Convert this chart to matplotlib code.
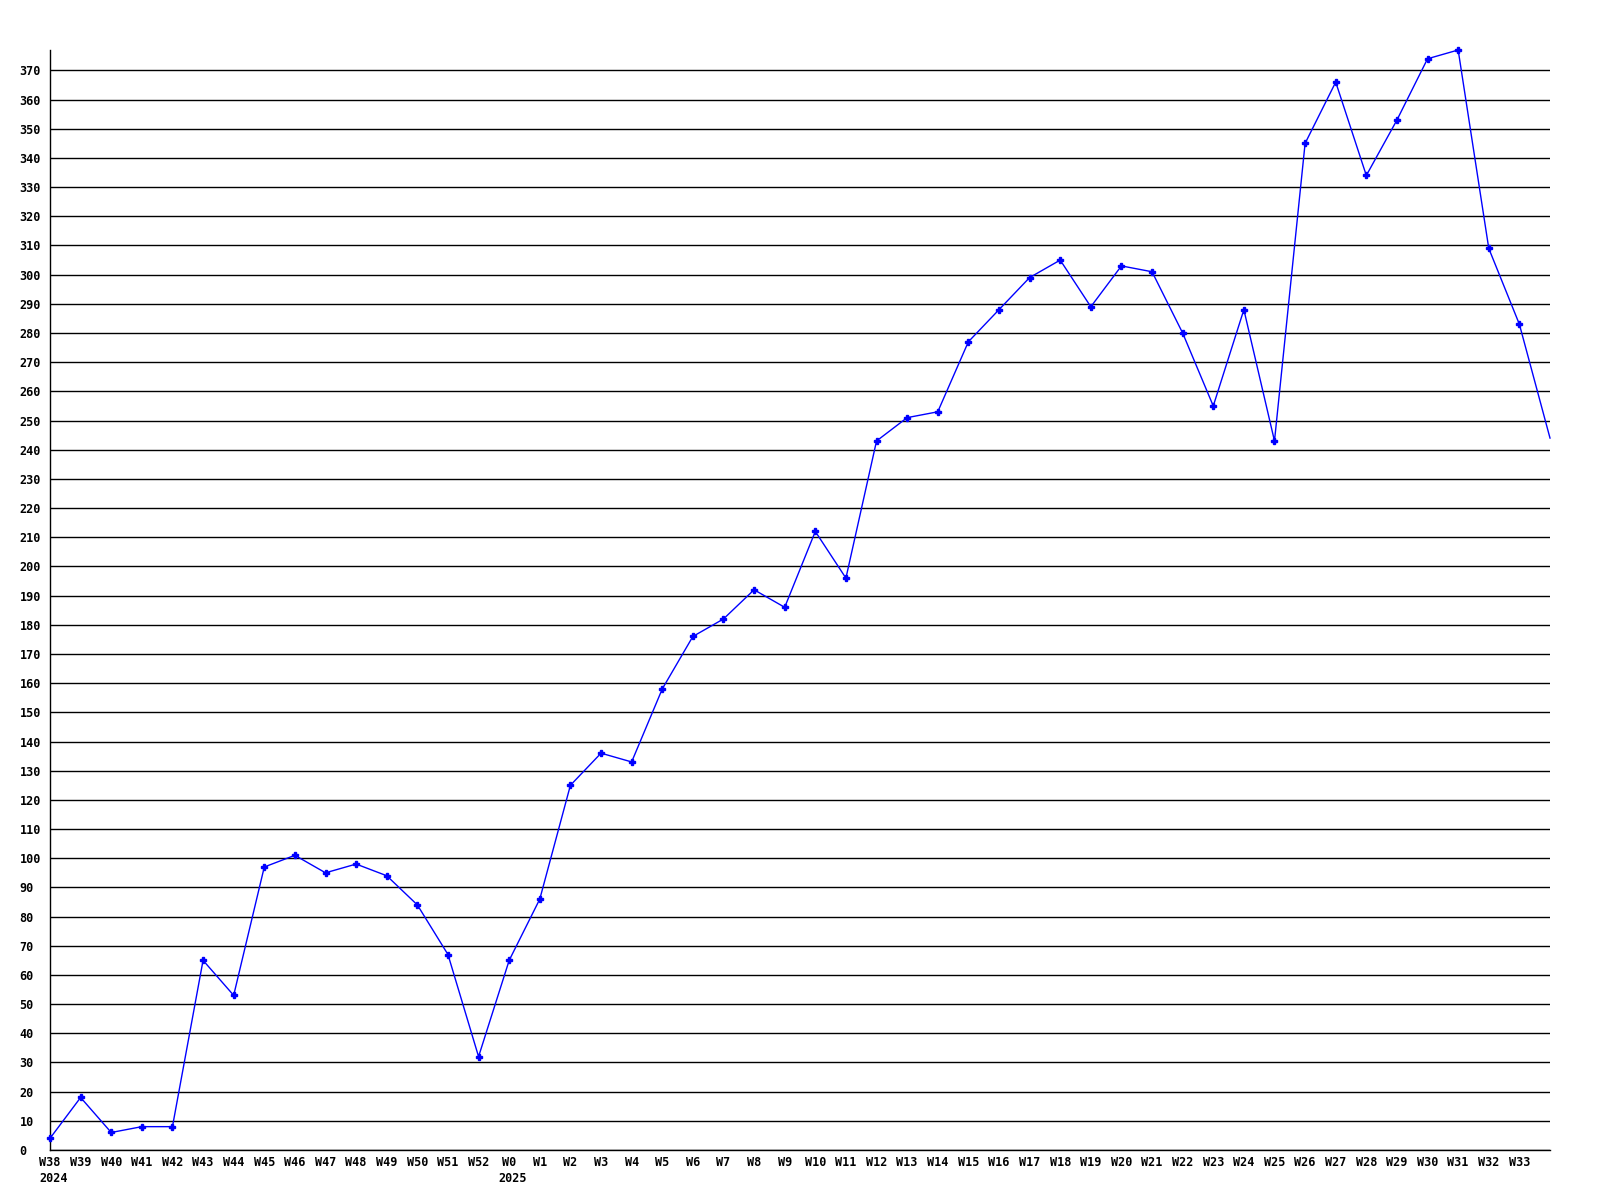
import matplotlib
matplotlib.use("Agg")
import matplotlib.pyplot as plt
import matplotlib.transforms as mtransforms

# Weekly values, W38 2024 .. W33 2025, plus a last point cut at the right edge
weeks = ["W38", "W39", "W40", "W41", "W42", "W43", "W44", "W45", "W46", "W47",
         "W48", "W49", "W50", "W51", "W52", "W0", "W1", "W2", "W3", "W4",
         "W5", "W6", "W7", "W8", "W9", "W10", "W11", "W12", "W13", "W14",
         "W15", "W16", "W17", "W18", "W19", "W20", "W21", "W22", "W23", "W24",
         "W25", "W26", "W27", "W28", "W29", "W30", "W31", "W32", "W33"]
values = [4, 18, 6, 8, 8, 65, 53, 97, 101, 95,
          98, 94, 84, 67, 32, 65, 86, 125, 136, 133,
          158, 176, 182, 192, 186, 212, 196, 243, 251, 253,
          277, 288, 299, 305, 289, 303, 301, 280, 255, 288,
          243, 345, 366, 334, 353, 374, 377, 309, 283, 244]
year_labels = {0: "2024", 15: "2025"}
y_ticks = list(range(0, 371, 10))

font = {"family": "DejaVu Sans Mono", "weight": "bold", "size": 8.5}

fig = plt.figure(figsize=(16, 12), dpi=100)
ax = fig.add_axes([50 / 1600, 50 / 1200, 1500 / 1600, 1100 / 1200])

# markers on the labelled weeks only, the last point is cut at the edge
ax.plot(range(len(values)), values, color="#0000ff", linewidth=1.0,
        marker="P", markersize=4, markevery=list(range(len(weeks))),
        zorder=3, clip_on=False)

ax.set_xlim(0, len(values) - 1)
ax.set_ylim(0, max(values))

ax.set_yticks(y_ticks)
ax.set_yticklabels([str(v) for v in y_ticks], fontdict=font)
for lab in ax.get_yticklabels():
    lab.set_horizontalalignment("left")
ax.tick_params(axis="y", length=0, pad=22)

ax.set_xticks(range(len(weeks)))
ax.set_xticklabels(weeks, fontdict=font)
ax.tick_params(axis="x", length=0, pad=4)

ax.grid(axis="y", color="black", linewidth=1.0)
ax.set_axisbelow(True)
for side in ["top", "right"]:
    ax.spines[side].set_visible(False)
for side in ["left", "bottom"]:
    ax.spines[side].set_color("black")
    ax.spines[side].set_linewidth(1.0)

# year under the first week of each year
for i, yr in year_labels.items():
    trans = ax.get_xaxis_transform() + mtransforms.ScaledTranslation(
        -8 / 72, -15.5 / 72, fig.dpi_scale_trans)
    ax.text(i, 0, yr, transform=trans, ha="left", va="top", **font)

fig.savefig("out.png", dpi=100)
